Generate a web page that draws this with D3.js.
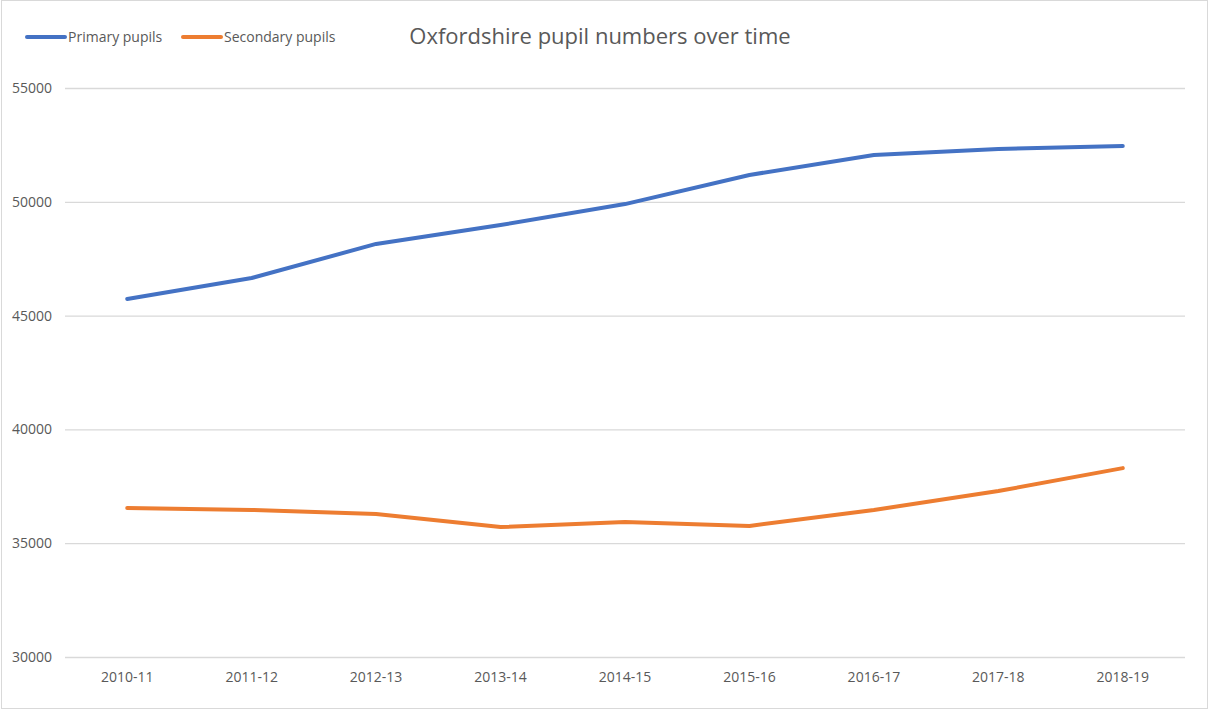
<!DOCTYPE html>
<html>
<head>
<meta charset="utf-8">
<script src="https://cdn.jsdelivr.net/npm/d3@7"></script>
<style>
  body { margin: 0; background: #fff; }
  svg text { font-family: "Open Sans", "Noto Sans", sans-serif; fill: #595959; }
</style>
</head>
<body>
<div id="chart"></div>
<script>
// Data
const years = ["2010-11", "2011-12", "2012-13", "2013-14", "2014-15", "2015-16", "2016-17", "2017-18", "2018-19"];
const primary = [45730, 46650, 48150, 48980, 49900, 51180, 52060, 52320, 52450];
const secondary = [36550, 36460, 36280, 35710, 35930, 35760, 36460, 37290, 38300];
const yTicks = [30000, 35000, 40000, 45000, 50000, 55000];

const width = 1210, height = 709;
const margin = { top: 88, right: 25, bottom: 52, left: 65 };

const svg = d3.select("#chart").append("svg")
    .attr("width", width)
    .attr("height", height);

// Chart border
svg.append("rect")
    .attr("x", 1.5).attr("y", 0.5)
    .attr("width", width - 4).attr("height", height - 1)
    .attr("fill", "none")
    .attr("stroke", "#d9d9d9");

const x = d3.scaleBand().domain(years).range([margin.left, width - margin.right]);
const y = d3.scaleLinear().domain([30000, 55000]).range([height - margin.bottom, margin.top]);

// Gridlines + y labels
const yAxis = svg.append("g")
    .attr("transform", `translate(${margin.left},0)`)
    .call(d3.axisLeft(y).tickValues(yTicks).tickSize(-(width - margin.left - margin.right)).tickPadding(13).tickFormat(d3.format("d")));
yAxis.select(".domain").remove();
yAxis.selectAll("line").attr("stroke", "#d9d9d9").attr("stroke-width", 1.3);
yAxis.selectAll("text").style("font-size", "14px").attr("fill", "#595959");

// x labels
const xAxis = svg.append("g")
    .attr("transform", `translate(0,${height - margin.bottom})`)
    .call(d3.axisBottom(x).tickSize(0).tickPadding(15));
xAxis.select(".domain").remove();
xAxis.selectAll("text").style("font-size", "14px").attr("fill", "#595959");

// Lines
const line = d3.line()
    .x((d, i) => x(years[i]) + x.bandwidth() / 2)
    .y(d => y(d));

const series = [
    { name: "Primary pupils", values: primary, color: "#4472c4" },
    { name: "Secondary pupils", values: secondary, color: "#ed7d31" }
];

series.forEach(s => {
    svg.append("path")
        .datum(s.values)
        .attr("fill", "none")
        .attr("stroke", s.color)
        .attr("stroke-width", 4)
        .attr("stroke-linejoin", "round")
        .attr("stroke-linecap", "round")
        .attr("d", line);
});

// Legend
const legendX = [27, 183];
series.forEach((s, i) => {
    const g = svg.append("g").attr("transform", `translate(${legendX[i]},37)`);
    g.append("line")
        .attr("x1", 0).attr("x2", 38)
        .attr("stroke", s.color)
        .attr("stroke-width", 4)
        .attr("stroke-linecap", "round");
    g.append("text")
        .attr("x", 41).attr("y", 5)
        .style("font-size", "14px")
        .text(s.name);
});

// Title
svg.append("text")
    .attr("x", 600).attr("y", 44)
    .attr("text-anchor", "middle")
    .style("font-size", "22px")
    .text("Oxfordshire pupil numbers over time");
</script>
</body>
</html>
